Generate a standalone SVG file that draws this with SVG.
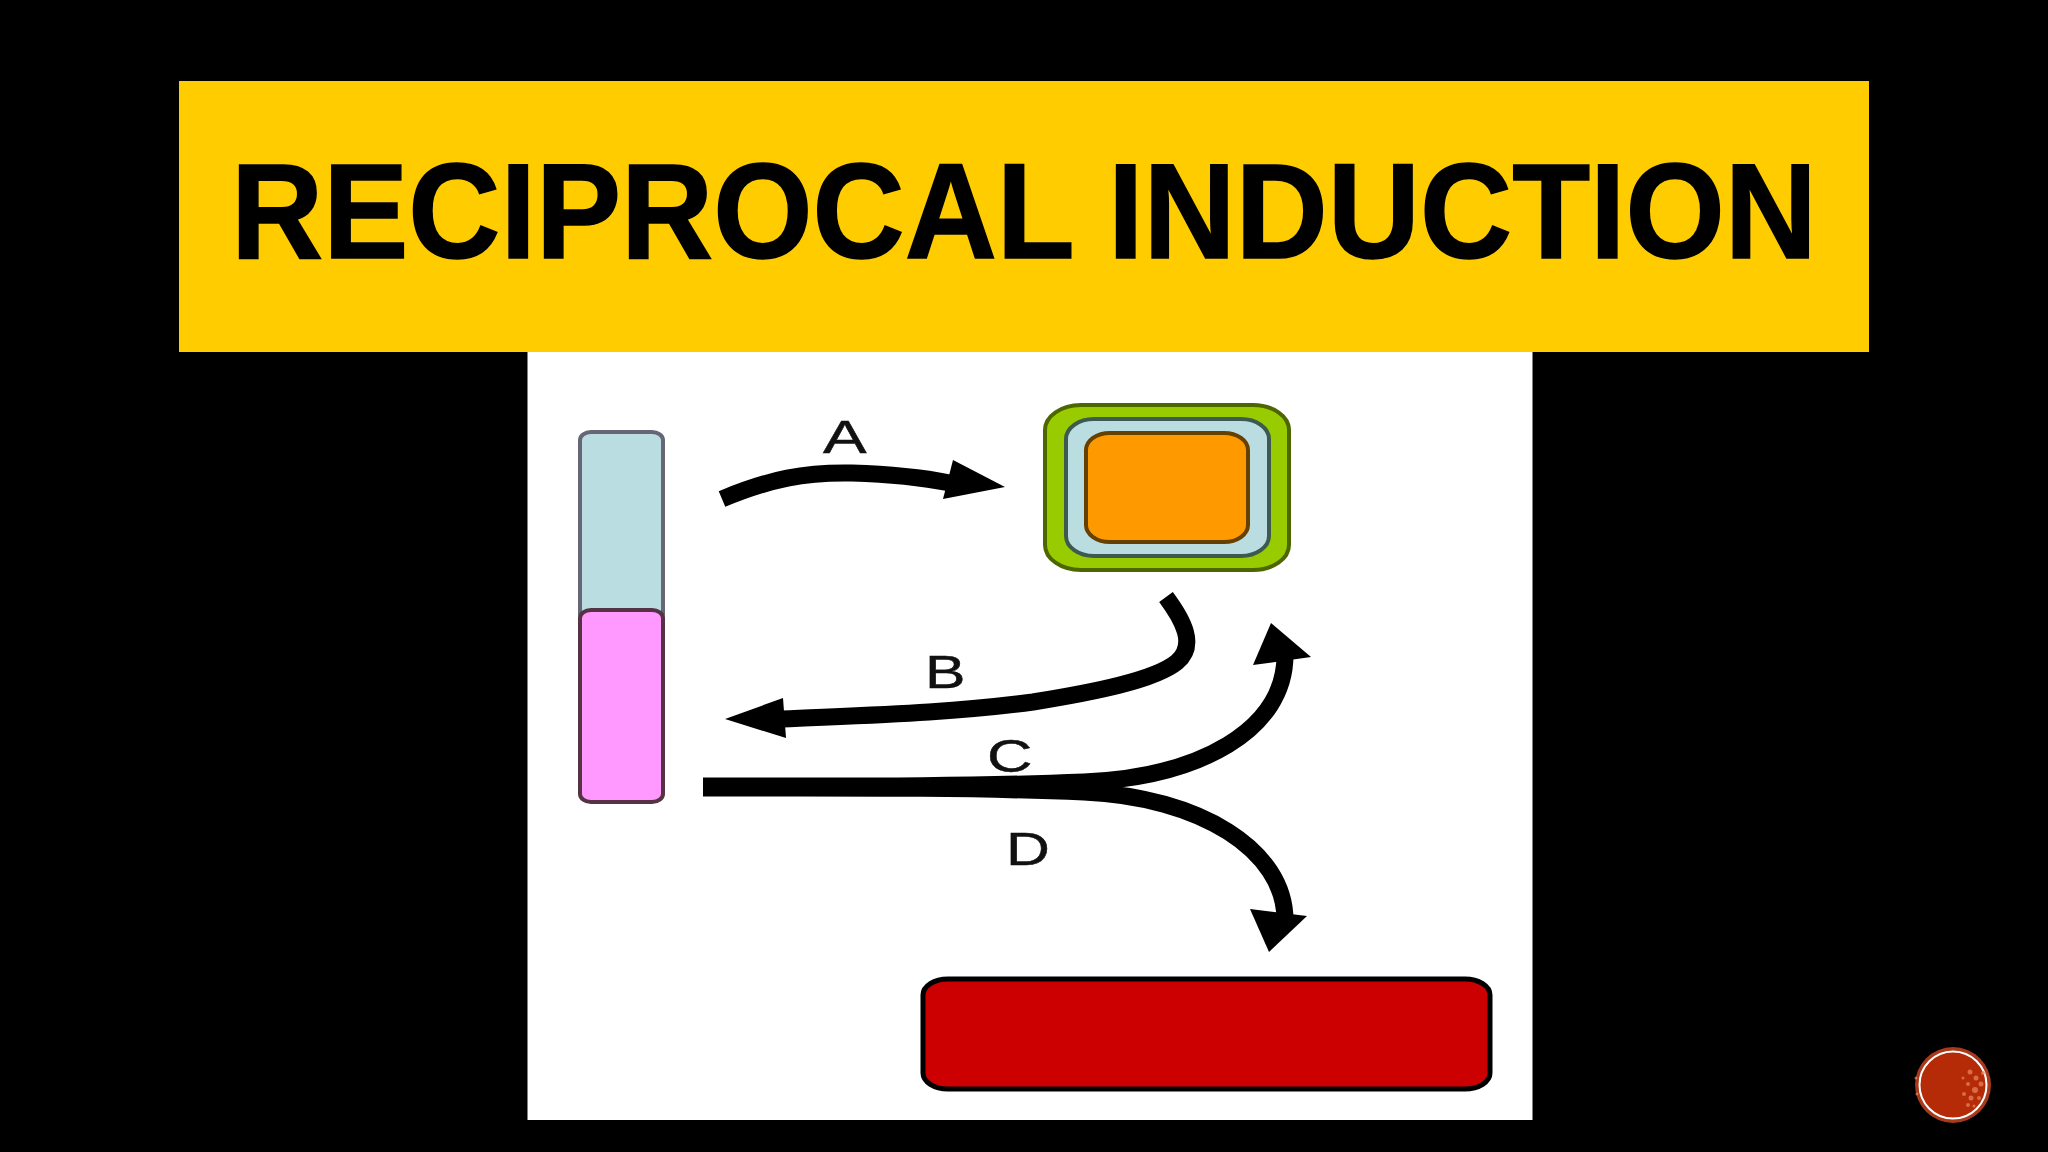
<svg xmlns="http://www.w3.org/2000/svg" width="2048" height="1152" viewBox="0 0 2048 1152">
<style>
.lbl{font-family:"Liberation Sans",Arial,sans-serif;font-size:46px;fill:#111;stroke:#111;stroke-width:.5}
.ln{fill:none;stroke:#000;stroke-width:17}
.hd{fill:#000}
.sq{stroke-width:4}
</style>
<rect width="2048" height="1152" fill="#000"/>
<rect x="527.500" y="351" width="1005" height="769" fill="#fff"/>
<g id="title">
<rect x="179" y="81" width="1690" height="271" fill="#ffcc00"/>
<text x="1024" y="258" text-anchor="middle" font-family="'Liberation Sans',Arial,sans-serif" font-weight="700" font-size="135" fill="#000" stroke="#000" stroke-width="1.500" textLength="1586" lengthAdjust="spacingAndGlyphs">RECIPROCAL INDUCTION</text>
</g>
<g id="bar">
<rect class="sq" x="580" y="432" width="83" height="190" rx="11" ry="8" fill="#b9dde1" stroke="#667"/>
<rect class="sq" x="580" y="610" width="83" height="192" rx="11" ry="8" fill="#ff99ff" stroke="#534"/>
</g>
<g id="cell">
<rect class="sq" x="1045" y="405" width="244" height="165" rx="36" ry="25" fill="#99cc00" stroke="#4d6600"/>
<rect class="sq" x="1066" y="419" width="203" height="137" rx="28" ry="20" fill="#b9dde1" stroke="#3d5a50"/>
<rect class="sq" x="1086" y="433" width="162" height="109" rx="24" ry="17" fill="#ff9900" stroke="#664000"/>
</g>
<g id="target">
<rect x="923" y="979" width="567" height="110" rx="25" ry="16" fill="#cc0000" stroke="#000" stroke-width="5"/>
</g>
<g id="connectors">
<path class="ln" d="M722,499C770,479 805,472 852,473C885,474 920,477 950,483"/>
<polygon class="hd" points="1005,487 953,460 943,499"/>
<path class="ln" d="M1166,597C1183,620 1197,645 1177,662C1155,680 1095,692 1033,702C950,713 870,715 782,719"/>
<polygon class="hd" points="725,719 783,698 786,738"/>
<path class="ln" d="M703,786C830,786 960,787 1084,782C1200,777 1285,730 1285,655"/>
<polygon class="hd" points="1271,623 1253,665 1311,657"/>
<path class="ln" d="M703,788C830,788 960,787 1084,792C1200,797 1285,850 1285,920"/>
<polygon class="hd" points="1269,952 1250,909 1307,916"/>
</g>
<g id="labels">
<text class="lbl" transform="translate(823,453) scale(1.42,1)">A</text>
<text class="lbl" transform="translate(925,688) scale(1.32,1)">B</text>
<text class="lbl" transform="translate(987,772) scale(1.37,1)">C</text>
<text class="lbl" transform="translate(1006,865) scale(1.32,1)">D</text>
</g>
<g id="badge">
<circle cx="1953" cy="1085" r="38" fill="#a8391a"/>
<circle cx="1953" cy="1085" r="33.500" fill="#b52a07" stroke="#fff" stroke-width="2"/>
<g fill="#e88a60" opacity=".7">
<circle cx="1970" cy="1072" r="2.500"/><circle cx="1976" cy="1078" r="2.500"/><circle cx="1968" cy="1084" r="2"/><circle cx="1975" cy="1090" r="3"/><circle cx="1981" cy="1084" r="2.500"/><circle cx="1971" cy="1098" r="2.500"/><circle cx="1979" cy="1098" r="2"/><circle cx="1964" cy="1094" r="2"/><circle cx="1983" cy="1073" r="2"/><circle cx="1968" cy="1105" r="2"/><circle cx="1963" cy="1078" r="1.500"/><circle cx="1974" cy="1106" r="1.500"/><circle cx="1916" cy="1078" r="1.500"/><circle cx="1917" cy="1094" r="1.500"/>
</g>
</g>
</svg>
